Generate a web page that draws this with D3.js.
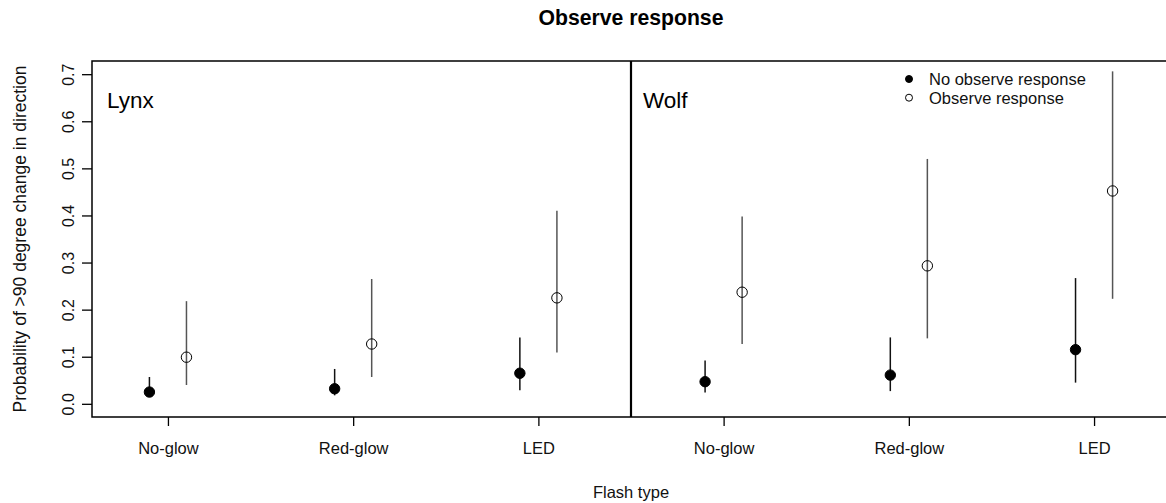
<!DOCTYPE html>
<html>
<head>
<meta charset="utf-8">
<script src="https://cdn.jsdelivr.net/npm/d3@7"></script>
<style>
  body { margin: 0; background: #fff; }
  svg { display: block; font-family: "Liberation Sans", Arial, sans-serif; }
</style>
</head>
<body>
<script>
// data
const flashTypes = ["No-glow", "Red-glow", "LED"];
const yTicks = [0, 0.1, 0.2, 0.3, 0.4, 0.5, 0.6, 0.7];
const seriesNames = ["No observe response", "Observe response"];

const lynxNoObs   = [0.025, 0.032, 0.065];
const lynxNoObsLo = [0.015, 0.018, 0.029];
const lynxNoObsHi = [0.057, 0.074, 0.141];
const lynxObs     = [0.099, 0.127, 0.225];
const lynxObsLo   = [0.040, 0.057, 0.109];
const lynxObsHi   = [0.218, 0.265, 0.410];

const wolfNoObs   = [0.047, 0.061, 0.115];
const wolfNoObsLo = [0.024, 0.027, 0.045];
const wolfNoObsHi = [0.092, 0.141, 0.267];
const wolfObs     = [0.237, 0.293, 0.452];
const wolfObsLo   = [0.127, 0.139, 0.223];
const wolfObsHi   = [0.398, 0.520, 0.706];

const width = 1166, height = 503;
const plotTop = 61, plotBottom = 417;

const svg = d3.select("body").append("svg")
    .attr("width", width)
    .attr("height", height);

const y = d3.scaleLinear().domain([-0.028, 0.728]).range([plotBottom, plotTop]);

// two panels side by side, sharing the y scale
const panels = [
    { name: "Lynx", x: d3.scaleLinear().domain([0.59, 3.5]).range([92, 631]),
      noObs: lynxNoObs, noObsLo: lynxNoObsLo, noObsHi: lynxNoObsHi,
      obs: lynxObs, obsLo: lynxObsLo, obsHi: lynxObsHi },
    { name: "Wolf", x: d3.scaleLinear().domain([0.5, 3.41]).range([631, 1170]),
      noObs: wolfNoObs, noObsLo: wolfNoObsLo, noObsHi: wolfNoObsHi,
      obs: wolfObs, obsLo: wolfObsLo, obsHi: wolfObsHi }
];

const rows = p => flashTypes.flatMap((f, i) => [
    { pos: i + 1 - 0.1, v: p.noObs[i], lo: p.noObsLo[i], hi: p.noObsHi[i], open: false },
    { pos: i + 1 + 0.1, v: p.obs[i], lo: p.obsLo[i], hi: p.obsHi[i], open: true }
]);

panels.forEach(p => {
    const g = svg.append("g");
    const [x0] = p.x.range();

    // x axis ticks + labels
    g.append("g")
        .attr("transform", `translate(0,${plotBottom})`)
        .call(d3.axisBottom(p.x)
            .tickValues([1, 2, 3])
            .tickSize(9)
            .tickPadding(16)
            .tickFormat(d => flashTypes[d - 1]))
        .call(a => a.select(".domain").remove())
        .call(a => a.selectAll(".tick line").attr("stroke", "#000").attr("stroke-width", 1.3))
        .call(a => a.selectAll(".tick text")
            .attr("font-size", 16.5)
            .attr("fill", "#111")
            .attr("font-family", "Liberation Sans, Arial, sans-serif"));

    const d = rows(p);

    g.selectAll(".err")
        .data(d)
        .join("line")
            .attr("class", "err")
            .attr("x1", r => p.x(r.pos))
            .attr("x2", r => p.x(r.pos))
            .attr("y1", r => y(r.lo))
            .attr("y2", r => y(r.hi))
            .attr("stroke", r => r.open ? "#555" : "#111")
            .attr("stroke-width", 1.5);

    g.selectAll(".pt")
        .data(d)
        .join("circle")
            .attr("class", "pt")
            .attr("cx", r => p.x(r.pos))
            .attr("cy", r => y(r.v))
            .attr("r", 5.2)
            .attr("fill", r => r.open ? "none" : "#000")
            .attr("stroke", "#000")
            .attr("stroke-width", 1);

    g.append("text")
        .attr("x", x0 + (p.name === "Lynx" ? 15 : 12))
        .attr("y", 108)
        .attr("font-size", 22.5)
        .attr("fill", "#000")
        .text(p.name);
});

// y axis
svg.append("g")
    .attr("transform", "translate(92,0)")
    .call(d3.axisLeft(y)
        .tickValues(yTicks)
        .tickSize(10)
        .tickFormat(d3.format(".1f")))
    .call(a => a.select(".domain").remove())
    .call(a => a.selectAll(".tick line").attr("stroke", "#000").attr("stroke-width", 1.3))
    .call(a => a.selectAll(".tick text")
        .attr("x", null).attr("dy", null)
        .attr("text-anchor", "middle")
        .attr("transform", "translate(-24,0) rotate(-90)")
        .attr("dominant-baseline", "central")
        .attr("font-size", 16)
        .attr("fill", "#111")
        .attr("font-family", "Liberation Sans, Arial, sans-serif"));

// frame: box (right side runs off the page) and panel divider
svg.append("path")
    .attr("d", `M1172,${plotTop}H92V${plotBottom}H1172`)
    .attr("fill", "none")
    .attr("stroke", "#000")
    .attr("stroke-width", 1.5);

svg.append("line")
    .attr("x1", 631).attr("x2", 631)
    .attr("y1", plotTop).attr("y2", plotBottom)
    .attr("stroke", "#000")
    .attr("stroke-width", 2.2);

// legend
const legend = svg.append("g").attr("transform", "translate(909,79)");
seriesNames.forEach((s, i) => {
    legend.append("circle")
        .attr("cy", i * 18.7)
        .attr("r", 3.5)
        .attr("fill", i === 0 ? "#000" : "#fff")
        .attr("stroke", "#000")
        .attr("stroke-width", 1);
    legend.append("text")
        .attr("x", 20)
        .attr("y", i * 18.7)
        .attr("dominant-baseline", "central")
        .attr("font-size", 16.5)
        .attr("fill", "#111")
        .text(s);
});

// titles
svg.append("text")
    .attr("x", 631).attr("y", 25)
    .attr("text-anchor", "middle")
    .attr("font-size", 21.2)
    .attr("font-weight", "bold")
    .text("Observe response");

svg.append("text")
    .attr("x", 631).attr("y", 498)
    .attr("text-anchor", "middle")
    .attr("font-size", 16.5)
    .attr("fill", "#111")
    .text("Flash type");

svg.append("text")
    .attr("transform", `translate(26,${(plotTop + plotBottom) / 2}) rotate(-90)`)
    .attr("text-anchor", "middle")
    .attr("font-size", 17.5)
    .attr("fill", "#111")
    .text("Probability of >90 degree change in direction");
</script>
</body>
</html>
